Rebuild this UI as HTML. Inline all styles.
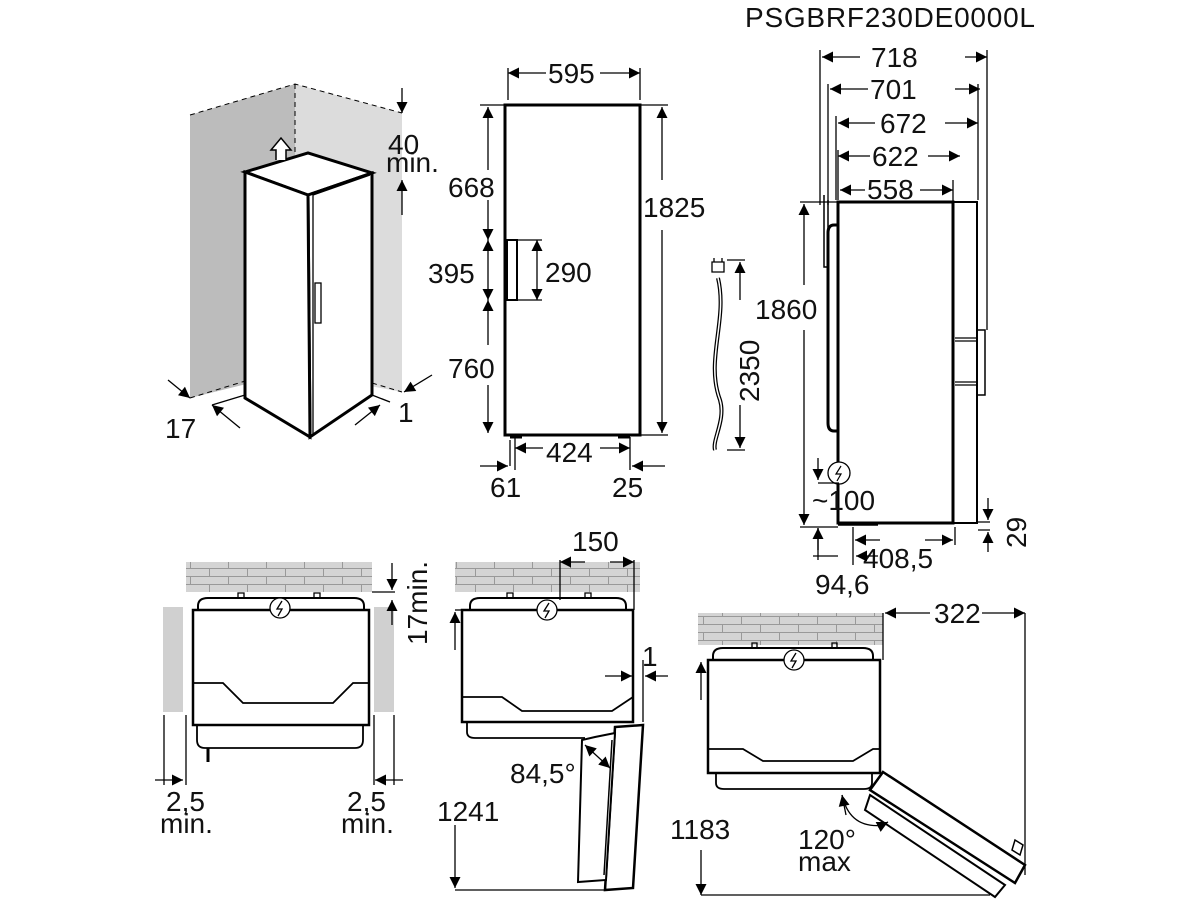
<!DOCTYPE html>
<html><head><meta charset="utf-8"><style>
html,body{margin:0;padding:0;background:#fff;}
svg{display:block;}
text{font-family:"Liberation Sans",sans-serif;fill:#111;}
</style></head><body>
<svg width="1200" height="900" viewBox="0 0 1200 900" xmlns="http://www.w3.org/2000/svg">
<defs>
<marker id="a" viewBox="0 0 10 10" refX="10" refY="5" markerWidth="16" markerHeight="11" markerUnits="userSpaceOnUse" orient="auto-start-reverse"><path d="M0,0 L10,5 L0,10 z" fill="#000"/></marker>
<pattern id="brick" width="38" height="16" patternUnits="userSpaceOnUse"><rect width="38" height="16" fill="#d4d4d4"/><path d="M0,0.5H38M0,8.5H38M0.5,0V8M19.5,8V16" stroke="#999" stroke-width="1" fill="none"/></pattern>
</defs>
<g stroke="#000" fill="none" stroke-width="1.3">

<text x="745" y="27" font-size="28" stroke="none" textLength="290">PSGBRF230DE0000L</text>

<!-- 3D view -->
<polygon points="190,115 295,84 295,372 190,398" fill="#bcbcbc" stroke="none"/>
<polygon points="295,84 402,113 402,392 295,372" fill="#dcdcdc" stroke="none"/>
<path d="M190,115 L295,84 L402,113 M295,84 V372 M190,398 L255,378 M372,383 L402,392" stroke-dasharray="5,4" stroke-width="1"/>
<polygon points="245,172 308,153 372,173 308,195" fill="#fff" stroke-width="3"/>
<polygon points="308,195 372,173 372,395 310,437" fill="#fff" stroke-width="3"/>
<polygon points="245,172 308,195 310,437 245,398" fill="#fff" stroke-width="3"/>
<path d="M313,193 L313,435 M313,195 L370,175"/>
<rect x="315" y="283" width="6" height="40" fill="#fff"/>
<path d="M276,160 V150 H271 L281,138 L291,150 H286 V160" fill="#fff" stroke-width="1.5"/>
<line x1="402" y1="88" x2="402" y2="113" marker-end="url(#a)"/>
<line x1="402" y1="215" x2="402" y2="180" marker-end="url(#a)"/>
<text x="388" y="154" font-size="28" stroke="none">40</text>
<text x="386" y="172" font-size="28" stroke="none">min.</text>
<line x1="168" y1="380" x2="190" y2="398" marker-end="url(#a)"/>
<line x1="240" y1="428" x2="212" y2="405" marker-end="url(#a)"/>
<line x1="212" y1="405" x2="245" y2="395"/>
<text x="165" y="438" font-size="28" stroke="none">17</text>
<line x1="432" y1="375" x2="404" y2="392" marker-end="url(#a)"/>
<line x1="355" y1="425" x2="380" y2="405" marker-end="url(#a)"/>
<line x1="372" y1="395" x2="390" y2="402"/>
<text x="398" y="422" font-size="28" stroke="none">1</text>

<!-- front view -->
<rect x="505" y="105" width="135" height="330" stroke-width="3"/>
<path d="M510,437 h12 M630,437 h-12" stroke-width="3"/>
<rect x="507" y="240" width="10" height="60" stroke-width="2"/>
<line x1="508" y1="68" x2="508" y2="100"/><line x1="640" y1="68" x2="640" y2="100"/>
<line x1="546" y1="73" x2="508" y2="73" marker-end="url(#a)"/>
<line x1="600" y1="73" x2="640" y2="73" marker-end="url(#a)"/>
<text x="548" y="83" font-size="28" stroke="none">595</text>
<line x1="480" y1="105" x2="505" y2="105"/>
<line x1="488" y1="170" x2="488" y2="107" marker-end="url(#a)"/>
<line x1="488" y1="200" x2="488" y2="240" marker-end="url(#a)"/>
<line x1="488" y1="240" x2="488" y2="300" marker-start="url(#a)" marker-end="url(#a)"/>
<line x1="488" y1="345" x2="488" y2="300" marker-end="url(#a)"/>
<line x1="488" y1="385" x2="488" y2="433" marker-end="url(#a)"/>
<text x="448" y="197" font-size="28" stroke="none">668</text>
<text x="428" y="283" font-size="28" stroke="none">395</text>
<text x="448" y="378" font-size="28" stroke="none">760</text>
<line x1="537" y1="240" x2="537" y2="300" marker-start="url(#a)" marker-end="url(#a)"/>
<path d="M517,240 h25 M517,300 h25"/>
<text x="545" y="282" font-size="28" stroke="none">290</text>
<line x1="640" y1="105" x2="668" y2="105"/><line x1="640" y1="435" x2="668" y2="435"/>
<line x1="662" y1="180" x2="662" y2="107" marker-end="url(#a)"/>
<line x1="662" y1="230" x2="662" y2="433" marker-end="url(#a)"/>
<text x="643" y="217" font-size="28" stroke="none">1825</text>
<path d="M515,437 V470 M630,437 V470"/>
<line x1="543" y1="448" x2="515" y2="448" marker-end="url(#a)"/>
<line x1="600" y1="448" x2="630" y2="448" marker-end="url(#a)"/>
<text x="546" y="462" font-size="28" stroke="none">424</text>
<line x1="480" y1="466" x2="508" y2="466" marker-end="url(#a)"/>
<line x1="510" y1="466" x2="510" y2="440"/>
<line x1="665" y1="466" x2="632" y2="466" marker-end="url(#a)"/>
<text x="490" y="497" font-size="28" stroke="none">61</text>
<text x="612" y="497" font-size="28" stroke="none">25</text>

<!-- cable -->
<path d="M718,278 C728,320 705,360 720,400 C726,420 712,440 715,450" stroke-width="4"/>
<path d="M718,278 C728,320 705,360 720,400 C726,420 712,440 715,450" stroke="#fff" stroke-width="1.5"/>
<path d="M712,262 h12 v10 h-12 z M714,262 v-4 M722,262 v-4" stroke-width="1.3"/>
<line x1="727" y1="260" x2="745" y2="260"/><line x1="727" y1="450" x2="745" y2="450"/>
<line x1="740" y1="300" x2="740" y2="262" marker-end="url(#a)"/>
<line x1="740" y1="405" x2="740" y2="448" marker-end="url(#a)"/>
<text transform="translate(759,402) rotate(-90)" font-size="28" stroke="none">2350</text>

<!-- side view -->
<rect x="838" y="202" width="115" height="321" stroke-width="3"/>
<rect x="953" y="202" width="24" height="321" stroke-width="2"/>
<rect x="977" y="330" width="8" height="65" stroke-width="1.5"/>
<path d="M955,338 h22 M955,341 h22 M955,382 h22 M955,385 h22"/>
<path d="M838,225 h-4 q-6,0 -6,8 v190 q0,8 6,8 h4" stroke-width="3"/>
<path d="M824,195 V267 h4 V200" stroke-width="1.5"/>
<path d="M838,523 h40 M838,525 h40" stroke-width="1.5"/>
<line x1="820" y1="50" x2="820" y2="205"/><line x1="828" y1="84" x2="828" y2="205"/>
<line x1="836" y1="116" x2="836" y2="200"/><line x1="838" y1="150" x2="838" y2="200"/>
<line x1="987" y1="50" x2="987" y2="330"/><line x1="978" y1="84" x2="978" y2="200"/>
<line x1="953" y1="180" x2="953" y2="202"/>
<line x1="860" y1="57" x2="822" y2="57" marker-end="url(#a)"/><line x1="965" y1="57" x2="987" y2="57" marker-end="url(#a)"/>
<text x="871" y="67" font-size="28" stroke="none">718</text>
<line x1="868" y1="89" x2="830" y2="89" marker-end="url(#a)"/><line x1="955" y1="89" x2="980" y2="89" marker-end="url(#a)"/>
<text x="870" y="99" font-size="28" stroke="none">701</text>
<line x1="875" y1="123" x2="838" y2="123" marker-end="url(#a)"/><line x1="945" y1="123" x2="978" y2="123" marker-end="url(#a)"/>
<text x="880" y="133" font-size="28" stroke="none">672</text>
<line x1="870" y1="156" x2="838" y2="156" marker-end="url(#a)"/><line x1="928" y1="156" x2="960" y2="156" marker-end="url(#a)"/>
<text x="872" y="166" font-size="28" stroke="none">622</text>
<line x1="865" y1="190" x2="840" y2="190" marker-end="url(#a)"/><line x1="920" y1="190" x2="953" y2="190" marker-end="url(#a)"/>
<text x="867" y="199" font-size="28" stroke="none">558</text>
<line x1="800" y1="202" x2="838" y2="202"/>
<line x1="804" y1="285" x2="804" y2="204" marker-end="url(#a)"/>
<line x1="804" y1="330" x2="804" y2="525" marker-end="url(#a)"/>
<line x1="800" y1="527" x2="838" y2="527"/>
<text x="755" y="319" font-size="28" stroke="none">1860</text>
<circle cx="839" cy="473" r="11" fill="#fff"/>
<path d="M841,466 l-5,8 h5 l-4,7" stroke-width="1.2"/>
<line x1="818" y1="458" x2="818" y2="480" marker-end="url(#a)"/>
<path d="M818,483 H839"/>
<text x="812" y="510" font-size="28" stroke="none">~100</text>
<line x1="818" y1="550" x2="818" y2="528" marker-end="url(#a)"/>
<path d="M818,528 V560 M853,527 V565 M955,527 V545"/>
<line x1="880" y1="540" x2="855" y2="540" marker-end="url(#a)"/>
<line x1="925" y1="540" x2="953" y2="540" marker-end="url(#a)"/>
<text x="863" y="568" font-size="28" stroke="none">408,5</text>
<line x1="813" y1="556" x2="838" y2="556"/>
<line x1="878" y1="556" x2="856" y2="556" marker-end="url(#a)"/>
<text x="815" y="594" font-size="28" stroke="none">94,6</text>
<path d="M978,522 h12 M978,530 h12"/>
<line x1="988" y1="498" x2="988" y2="520" marker-end="url(#a)"/>
<line x1="988" y1="552" x2="988" y2="532" marker-end="url(#a)"/>
<text transform="translate(1026,548) rotate(-90)" font-size="28" stroke="none">29</text>

<!-- plan 1 -->
<rect x="186" y="562" width="186" height="30" fill="url(#brick)" stroke="none"/>
<rect x="163" y="607" width="20" height="105" fill="#d0d0d0" stroke="none"/>
<rect x="374" y="607" width="20" height="105" fill="#d0d0d0" stroke="none"/>
<path d="M198,610 v-4 q0,-8 10,-8 h146 q10,0 10,8 v4" stroke-width="2"/>
<path d="M238,598 v-5 h6 v5 M314,598 v-5 h6 v5"/>
<rect x="193" y="610" width="176" height="115" stroke-width="2.5"/>
<path d="M193,683 h30 l20,20 h90 l20,-20 h16" stroke-width="1.8"/>
<path d="M197,725 v15 q0,8 8,8 h150 q8,0 8,-8 v-15" stroke-width="1.8"/>
<line x1="208" y1="748" x2="208" y2="762" stroke-width="3"/>
<circle cx="280" cy="608" r="10" fill="#fff"/><path d="M282,601 l-5,8 h5 l-4,7"/>
<path d="M186,715 V785 M374,715 V785 M164,715 V785 M394,715 V785 M372,592 H395"/>
<line x1="155" y1="780" x2="183" y2="780" marker-end="url(#a)"/>
<line x1="403" y1="780" x2="375" y2="780" marker-end="url(#a)"/>
<text x="166" y="811" font-size="28" stroke="none">2,5</text>
<text x="160" y="833" font-size="28" stroke="none">min.</text>
<text x="347" y="811" font-size="28" stroke="none">2,5</text>
<text x="341" y="833" font-size="28" stroke="none">min.</text>
<line x1="392" y1="563" x2="392" y2="590" marker-end="url(#a)"/>
<line x1="392" y1="625" x2="392" y2="600" marker-end="url(#a)"/>
<text transform="translate(427,645) rotate(-90)" font-size="28" stroke="none">17min.</text>

<!-- plan 2 -->
<rect x="455" y="562" width="185" height="30" fill="url(#brick)" stroke="none"/>
<path d="M470,610 v-4 q0,-8 10,-8 h136 q10,0 10,8 v4" stroke-width="2"/>
<path d="M507,598 v-5 h6 v5 M585,598 v-5 h6 v5"/>
<rect x="462" y="610" width="171" height="112" stroke-width="2.5"/>
<path d="M462,697 h40 l20,14 h90 l21,-14" stroke-width="1.8"/>
<path d="M467,722 v10 q0,6 8,6 h110" stroke-width="1.8"/>
<circle cx="547" cy="610" r="10" fill="#fff"/><path d="M549,603 l-5,8 h5 l-4,7"/>
<path d="M560,560 V600 M634,560 V610 M643,660 V722"/>
<line x1="585" y1="562" x2="560" y2="562" marker-end="url(#a)"/>
<line x1="610" y1="562" x2="634" y2="562" marker-end="url(#a)"/>
<text x="572" y="551" font-size="28" stroke="none">150</text>
<line x1="605" y1="676" x2="632" y2="676" marker-end="url(#a)"/>
<line x1="668" y1="676" x2="645" y2="676" marker-end="url(#a)"/>
<text x="642" y="666" font-size="28" stroke="none">1</text>
<path d="M615,727 L643,725 L633,888 L605,890 Z" fill="#fff" stroke-width="2.5"/>
<path d="M595,737 L615,733 L606,880 L578,882 L582,740 Z" fill="#fff" stroke-width="2"/>
<path d="M612,740 L604,875" stroke-width="1.5"/>
<path d="M585,745 L610,768" marker-end="url(#a)" marker-start="url(#a)"/>
<text x="510" y="783" font-size="28" stroke="none">84,5°</text>
<line x1="455" y1="610" x2="462" y2="610"/>
<line x1="455" y1="650" x2="455" y2="612" marker-end="url(#a)"/>
<line x1="455" y1="825" x2="455" y2="888" marker-end="url(#a)"/>
<line x1="455" y1="890" x2="610" y2="890"/>
<text x="437" y="821" font-size="28" stroke="none">1241</text>

<!-- plan 3 -->
<rect x="698" y="613" width="185" height="32" fill="url(#brick)" stroke="none"/>
<path d="M713,660 v-4 q0,-8 10,-8 h140 q10,0 10,8 v4" stroke-width="2"/>
<path d="M752,648 v-5 h5 v5 M832,648 v-5 h5 v5"/>
<rect x="708" y="660" width="172" height="113" stroke-width="2.5"/>
<path d="M708,749 h35 l20,12 h90 l20,-12 h7" stroke-width="1.8"/>
<path d="M716,773 v10 q0,6 8,6 h140 q8,0 8,-6 v-10" stroke-width="1.8"/>
<circle cx="794" cy="660" r="10" fill="#fff"/><path d="M796,653 l-5,8 h5 l-4,7"/>
<path d="M883,613 V660"/>
<line x1="930" y1="613" x2="885" y2="613" marker-end="url(#a)"/>
<line x1="982" y1="613" x2="1025" y2="613" marker-end="url(#a)"/>
<text x="934" y="623" font-size="28" stroke="none">322</text>
<line x1="1025" y1="613" x2="1025" y2="875"/>
<path d="M883,772 L1025,865 L1015,883 L870,790 Z" fill="#fff" stroke-width="2.5"/>
<path d="M870,795 L1005,885 L995,897 L865,810 Z" fill="#fff" stroke-width="2"/>
<path d="M1015,840 l8,5 l-3,10 l-8,-5 z" stroke-width="1.5"/>
<path d="M842,795 Q850,830 885,825" />
<line x1="846" y1="815" x2="842" y2="795" marker-end="url(#a)"/>
<line x1="878" y1="827" x2="888" y2="822" marker-end="url(#a)"/>
<text x="798" y="849" font-size="28" stroke="none">120°</text>
<text x="798" y="871" font-size="28" stroke="none">max</text>
<line x1="701" y1="700" x2="701" y2="662" marker-end="url(#a)"/>
<line x1="701" y1="850" x2="701" y2="895" marker-end="url(#a)"/>
<line x1="701" y1="895" x2="990" y2="895"/>
<text x="670" y="839" font-size="28" stroke="none">1183</text>
</g>
</svg>
</body></html>
